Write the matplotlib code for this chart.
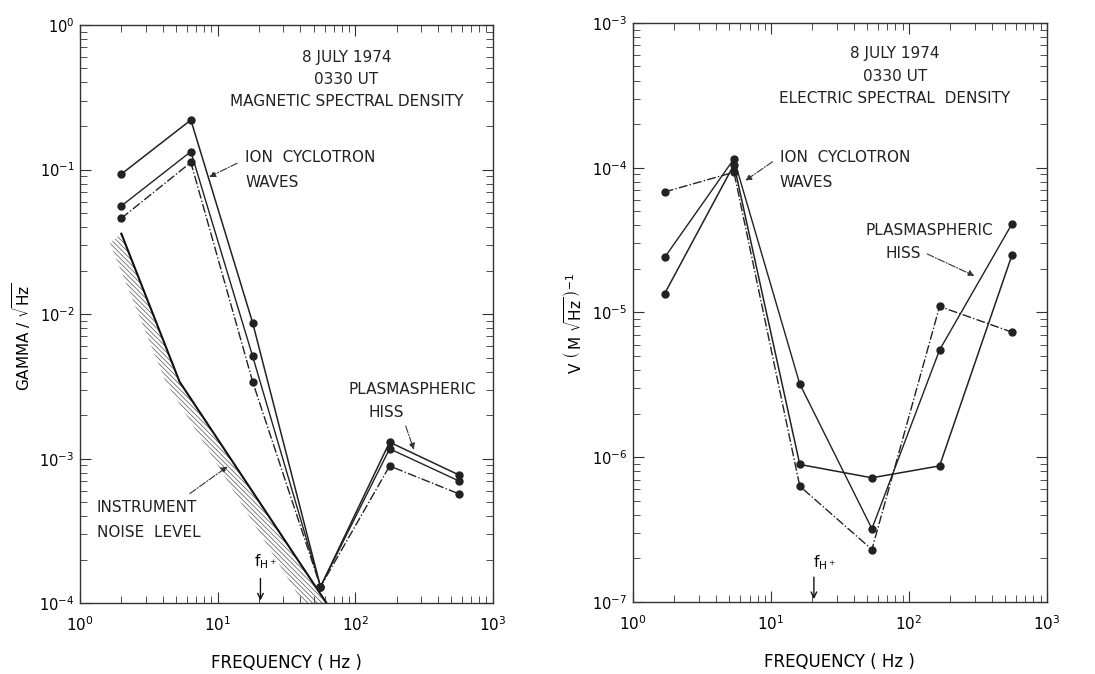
import math
import matplotlib.pyplot as plt
from matplotlib.ticker import LogLocator, FixedLocator, NullFormatter

# magnetic spectral density (left panel)
mag_freq = [2.0, 6.4, 18.0, 56.0, 178.0, 570.0]
mag_a = [0.093, 0.22, 0.0087, 1.3e-4, 1.3e-3, 7.7e-4]
mag_b = [0.056, 0.133, 0.0051, 1.3e-4, 1.17e-3, 7.0e-4]
mag_c = [0.046, 0.112, 0.0034, 1.3e-4, 8.9e-4, 5.7e-4]

# instrument noise band
noise_upper_f = [2.0, 5.3, 62.0]
noise_upper_v = [0.036, 3.4e-3, 1.0e-4]
noise_lower_f = [1.65, 4.2, 42.0]
noise_lower_v = [0.031, 3.4e-3, 1.0e-4]

# electric spectral density (right panel)
ele_freq = [1.7, 5.4, 16.2, 54.0, 167.0, 560.0]
ele_a = [6.8e-5, 9.3e-5, 6.3e-7, 2.3e-7, 1.1e-5, 7.3e-6]
ele_b = [2.4e-5, 1.15e-4, 3.2e-6, 3.2e-7, 5.5e-6, 4.1e-5]
ele_c = [1.35e-5, 1.05e-4, 8.9e-7, 7.2e-7, 8.7e-7, 2.5e-5]

f_hplus = 20.5

plt.rcParams['hatch.linewidth'] = 0.5
plt.rcParams['font.family'] = 'DejaVu Sans'

fig = plt.figure(figsize=(10.95, 6.74), dpi=100)
ax1 = fig.add_axes([0.073, 0.105, 0.377, 0.858])
ax2 = fig.add_axes([0.578, 0.107, 0.378, 0.859])

txt = dict(fontsize=11, color='#222222')


def setup(ax, ymin, ymax):
    ax.set_xscale('log')
    ax.set_yscale('log')
    ax.set_xlim(1, 1000)
    ax.set_ylim(ymin, ymax)
    ax.xaxis.set_major_locator(FixedLocator([10.0 ** k for k in range(0, 4)]))
    ax.set_xticklabels(['$10^{%d}$' % k for k in range(0, 4)])
    lo, hi = int(round(math.log10(ymin))), int(round(math.log10(ymax)))
    ax.yaxis.set_major_locator(FixedLocator([10.0 ** k for k in range(lo, hi + 1)]))
    ax.set_yticklabels(['$10^{%d}$' % k for k in range(lo, hi + 1)])
    for a in (ax.xaxis, ax.yaxis):
        a.set_minor_locator(LogLocator(base=10, subs=range(2, 10)))
        a.set_minor_formatter(NullFormatter())
    ax.tick_params(which='both', direction='in', top=True, right=True,
                   labelsize=11, color='#333333')
    ax.tick_params(which='major', length=8)
    ax.tick_params(axis='x', which='major', pad=9)
    ax.tick_params(axis='y', which='major', pad=4, labelsize=10.5)
    ax.tick_params(which='minor', length=5)
    for s in ax.spines.values():
        s.set_linewidth(1.0)
        s.set_color('#333333')
    ax.set_xlabel('FREQUENCY ( Hz )', fontsize=12, labelpad=14)


arrow = dict(arrowstyle='-|>', lw=0.8, ls='-.', color='#333333', mutation_scale=9)

# ---- left panel ----
setup(ax1, 1e-4, 1)
ax1.fill(noise_upper_f + noise_lower_f[::-1], noise_upper_v + noise_lower_v[::-1],
         facecolor='none', edgecolor='#555555', linewidth=0, hatch='\\' * 7)
ax1.plot(noise_upper_f, noise_upper_v, color='#111111', lw=1.5)
ax1.plot(mag_freq, mag_a, '-', color='#222222', lw=1.1, marker='o', ms=5)
ax1.plot(mag_freq, mag_b, '-', color='#222222', lw=1.0, marker='o', ms=5)
ax1.plot(mag_freq, mag_c, '-.', color='#222222', lw=1.0, marker='o', ms=5)

ax1.text(0.646, 0.943, '8 JULY 1974', transform=ax1.transAxes, ha='center', va='center', **txt)
ax1.text(0.646, 0.905, '0330 UT', transform=ax1.transAxes, ha='center', va='center', **txt)
ax1.text(0.646, 0.867, 'MAGNETIC SPECTRAL DENSITY', transform=ax1.transAxes, ha='center', va='center', **txt)
ax1.text(0.40, 0.770, 'ION  CYCLOTRON', transform=ax1.transAxes, ha='left', va='center', **txt)
ax1.text(0.40, 0.728, 'WAVES', transform=ax1.transAxes, ha='left', va='center', **txt)
ax1.annotate('', xy=(0.307, 0.735), xytext=(0.387, 0.763), xycoords='axes fraction', arrowprops=arrow)
ax1.text(0.804, 0.370, 'PLASMASPHERIC', transform=ax1.transAxes, ha='center', va='center', **txt)
ax1.text(0.743, 0.329, 'HISS', transform=ax1.transAxes, ha='center', va='center', **txt)
ax1.annotate('', xy=(0.811, 0.261), xytext=(0.787, 0.311), xycoords='axes fraction', arrowprops=arrow)
ax1.text(0.041, 0.166, 'INSTRUMENT', transform=ax1.transAxes, ha='left', va='center', **txt)
ax1.text(0.041, 0.123, 'NOISE  LEVEL', transform=ax1.transAxes, ha='left', va='center', **txt)
ax1.annotate('', xy=(0.363, 0.239), xytext=(0.261, 0.187), xycoords='axes fraction', arrowprops=arrow)
ax1.text(0.448, 0.072, r'$\mathrm{f}_{\mathrm{H}^+}$', transform=ax1.transAxes, ha='center', va='center', fontsize=11)
ax1.annotate('', xy=(f_hplus, 1e-4), xytext=(f_hplus, 1.55e-4),
             arrowprops=dict(arrowstyle='->', lw=1.0, color='#111111'))
fig.text(0.020, 0.50, r'GAMMA / $\sqrt{\mathrm{Hz}}$', rotation=90, ha='center', va='center', fontsize=11)

# ---- right panel ----
setup(ax2, 1e-7, 1e-3)
ax2.plot(ele_freq, ele_a, '-.', color='#222222', lw=1.0, marker='o', ms=5)
ax2.plot(ele_freq, ele_b, '-', color='#222222', lw=1.0, marker='o', ms=5)
ax2.plot(ele_freq, ele_c, '-', color='#222222', lw=1.1, marker='o', ms=5)

ax2.text(0.633, 0.948, '8 JULY 1974', transform=ax2.transAxes, ha='center', va='center', **txt)
ax2.text(0.633, 0.908, '0330 UT', transform=ax2.transAxes, ha='center', va='center', **txt)
ax2.text(0.633, 0.869, 'ELECTRIC SPECTRAL  DENSITY', transform=ax2.transAxes, ha='center', va='center', **txt)
ax2.text(0.355, 0.767, 'ION  CYCLOTRON', transform=ax2.transAxes, ha='left', va='center', **txt)
ax2.text(0.355, 0.725, 'WAVES', transform=ax2.transAxes, ha='left', va='center', **txt)
ax2.annotate('', xy=(0.266, 0.725), xytext=(0.343, 0.763), xycoords='axes fraction', arrowprops=arrow)
ax2.text(0.717, 0.642, 'PLASMASPHERIC', transform=ax2.transAxes, ha='center', va='center', **txt)
ax2.text(0.652, 0.601, 'HISS', transform=ax2.transAxes, ha='center', va='center', **txt)
ax2.annotate('', xy=(0.831, 0.561), xytext=(0.705, 0.603), xycoords='axes fraction', arrowprops=arrow)
ax2.text(0.462, 0.068, r'$\mathrm{f}_{\mathrm{H}^+}$', transform=ax2.transAxes, ha='center', va='center', fontsize=11)
ax2.annotate('', xy=(f_hplus, 1e-7), xytext=(f_hplus, 1.55e-7),
             arrowprops=dict(arrowstyle='->', lw=1.0, color='#111111'))
fig.text(0.524, 0.52, r'V $\left(\,\mathrm{M}\ \sqrt{\mathrm{Hz}}\,\right)^{-1}$', rotation=90,
         ha='center', va='center', fontsize=11)

fig.savefig('out.png', dpi=100)
